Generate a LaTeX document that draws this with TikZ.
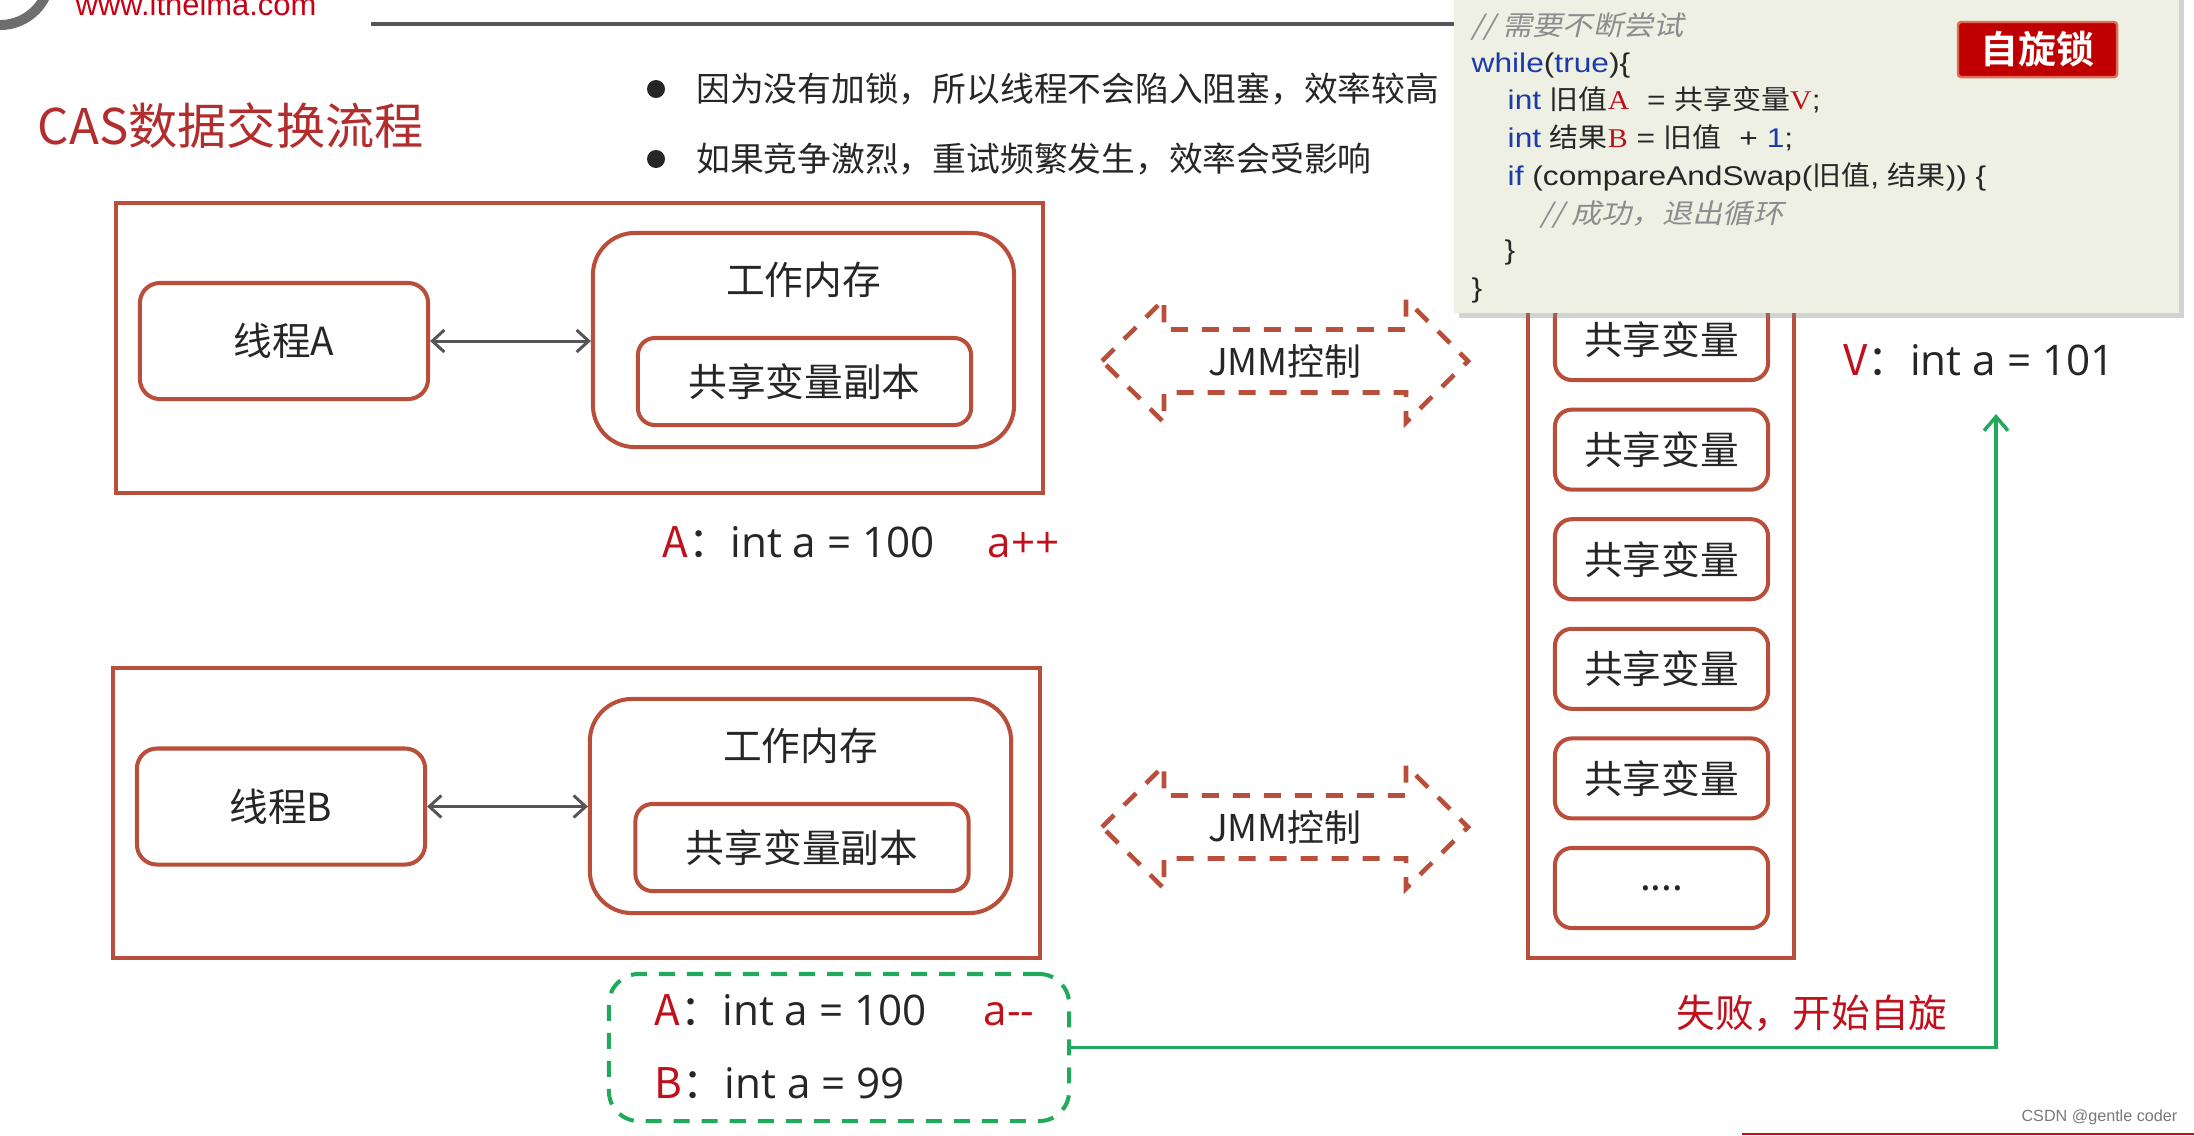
\documentclass[tikz,border=0pt]{standalone}
\usepackage{fontspec}
\setmainfont{Noto Sans CJK SC}
\newfontfamily\latfont{Open Sans}
\newfontfamily\codefont[FakeStretch=1.17]{Liberation Sans}
\newfontfamily\codecjk[FakeStretch=1.07]{Noto Sans CJK SC}
\newfontfamily\codeslant[FakeStretch=1.12,FakeSlant=0.22]{Noto Sans CJK SC}
\newfontfamily\codeserif[FakeStretch=1.1]{Liberation Serif}
\newfontfamily\badgefont{Noto Sans CJK SC Bold}
\newfontfamily\markfont{Liberation Sans}
\usetikzlibrary{arrows.meta,positioning,shadows}

\definecolor{boxred}{RGB}{185,78,58}
\definecolor{titlered}{RGB}{178,46,46}
\definecolor{labred}{RGB}{192,16,28}
\definecolor{logored}{RGB}{200,0,20}
\definecolor{spingreen}{RGB}{34,170,92}
\definecolor{linkgray}{RGB}{85,85,85}
\definecolor{ringgray}{RGB}{110,110,110}
\definecolor{markgray}{RGB}{120,120,120}
\definecolor{inkgray}{RGB}{38,38,38}
\definecolor{codebg}{RGB}{238,240,228}
\definecolor{codeblue}{RGB}{28,58,168}
\definecolor{codegray}{RGB}{140,140,140}
\definecolor{badgered}{RGB}{192,0,0}
\definecolor{badgeedge}{RGB}{222,110,90}

\newcommand\boxsize{\fontsize{11pt}{13pt}\selectfont}
\newcommand\bulletsize{\fontsize{9.6pt}{12pt}\selectfont}
\newcommand\titlesize{\fontsize{14pt}{16pt}\selectfont}
\newcommand\labelsize{\fontsize{12pt}{14pt}\selectfont}
\newcommand\jmmsize{\fontsize{10.5pt}{12pt}\selectfont}
\newcommand\codesize{\fontsize{7.7pt}{9pt}\selectfont}
\newcommand\cj[1]{{\codecjk #1}}
\newcommand\kw[1]{\textcolor{codeblue}{#1}}
\newcommand\rv[1]{{\codeserif\color{labred}#1}}
\newcommand\intlabel[2]{\textcolor{labred}{#1}：{\latfont int a = #2}}

\tikzset{
  outerbox/.style={draw=boxred,line width=1.15pt,minimum width=9.27cm,minimum height=2.90cm,inner sep=0pt},
  threadbox/.style={draw=boxred,line width=1.15pt,rounded corners=0.2cm,minimum width=2.88cm,minimum height=1.16cm,inner sep=0pt,font=\boxsize,text=inkgray},
  membox/.style={draw=boxred,line width=1.15pt,rounded corners=0.42cm,minimum width=4.21cm,minimum height=2.14cm,inner sep=0pt},
  copybox/.style={draw=boxred,line width=1.15pt,rounded corners=0.17cm,minimum width=3.33cm,minimum height=0.87cm,inner sep=0pt,font=\boxsize,text=inkgray},
  varbox/.style={draw=boxred,line width=1.15pt,rounded corners=0.17cm,minimum width=2.13cm,minimum height=0.80cm,inner sep=0pt,font=\boxsize,text=inkgray},
  boxtext/.style={inner sep=0pt,font=\boxsize,text=inkgray},
  bulletdot/.style={circle,fill=inkgray,inner sep=0pt,minimum size=0.18cm},
  notetext/.style={anchor=west,inner sep=0pt,font=\bulletsize,text=inkgray},
  link/.style={linkgray,line width=0.85pt,{Straight Barb[length=0.12cm,width=0.22cm]}-{Straight Barb[length=0.12cm,width=0.22cm]}},
  jmmline/.style={boxred,line width=1.3pt,dash pattern=on 0.17cm off 0.14cm},
  jmmtext/.style={inner sep=0pt,font=\jmmsize,text=inkgray},
  intlab/.style={anchor=base west,inner sep=0pt,font=\labelsize,text=inkgray},
  oplab/.style={anchor=base west,inner sep=0pt,font=\labelsize\latfont,text=labred},
  greenbox/.style={draw=spingreen,line width=1.15pt,dash pattern=on 0.16cm off 0.12cm,rounded corners=0.3cm,minimum width=4.60cm,minimum height=1.47cm,inner sep=0pt},
  spinarrow/.style={spingreen,line width=1pt,-{Straight Barb[length=0.14cm,width=0.24cm]}},
  codeline/.style={anchor=base west,inner sep=0pt,font=\codefont\codesize,text=inkgray},
  codenote/.style={anchor=base west,inner sep=0pt,font=\codeslant\codesize,text=codegray},
  badge/.style={fill=badgered,draw=badgeedge,line width=0.7pt,rounded corners=0.03cm,minimum width=1.59cm,minimum height=0.55cm,inner sep=0pt,text=white,font=\badgefont\fontsize{10.8pt}{12pt}\selectfont},
}

\begin{document}
\begin{tikzpicture}[x=0.01cm,y=-0.01cm]
    \useasboundingbox (0,0) rectangle (2194,1135);
    % header
    \draw[ringgray,line width=0.1cm] (0,-25) circle [radius=0.5cm];
    \node[anchor=base west,inner sep=0pt,text=logored,font=\markfont\fontsize{8.8pt}{10pt}\selectfont] (site) at (75,15) {www.itheima.com};
    \draw[linkgray,line width=1pt] (371,24) -- (1460,24);
    \node[anchor=west,inner sep=0pt,text=titlered,font=\titlesize] (title) at (37,126) {CAS数据交换流程};
    \node[bulletdot] (dot1) at (656,89) {};
    \node[notetext,right=0.3cm of dot1] (note1) {因为没有加锁，所以线程不会陷入阻塞，效率较高};
    \node[bulletdot] (dot2) at (656,159) {};
    \node[notetext,right=0.3cm of dot2] (note2) {如果竞争激烈，重试频繁发生，效率会受影响};
    % thread A
    \node[outerbox] (outA) at (579.5,348) {};
    \node[threadbox] (thrA) at (284,341) {线程A};
    \node[membox] (memA) at (803.5,340) {};
    \node[boxtext,below=0.3cm of memA.north] (workA) {工作内存};
    \node[copybox] (copyA) at (804.5,381.5) {共享变量副本};
    \draw[link] (thrA.east) -- (thrA.east -| memA.west);
    \node[intlab] (alab) at (662,557) {\intlabel{A}{100}};
    \node[oplab] (aplus) at (987,557) {a++};
    % thread B
    \node[outerbox] (outB) at (576.5,813) {};
    \node[threadbox] (thrB) at (281,806.5) {线程B};
    \node[membox] (memB) at (800.5,806) {};
    \node[boxtext,below=0.3cm of memB.north] (workB) {工作内存};
    \node[copybox] (copyB) at (802,847.5) {共享变量副本};
    \draw[link] (thrB.east) -- (thrB.east -| memB.west);
    % JMM
    \node[jmmtext] (jmmA) at (1285,361) {JMM控制};
    \draw[jmmline] (jmmA.center) ++(-183,0) -- ++(62,-61.5) -- ++(0,30) -- ++(242,0) -- ++(0,-30) -- ++(62,61.5) -- ++(-62,61.5) -- ++(0,-30) -- ++(-242,0) -- ++(0,30) -- cycle;
    \node[jmmtext] (jmmB) at (1285,827) {JMM控制};
    \draw[jmmline] (jmmB.center) ++(-183,0) -- ++(62,-61.5) -- ++(0,30) -- ++(242,0) -- ++(0,-30) -- ++(62,61.5) -- ++(-62,61.5) -- ++(0,-30) -- ++(-242,0) -- ++(0,30) -- cycle;
    % main memory
    \node[draw=boxred,line width=1.15pt,minimum width=2.66cm,minimum height=7.08cm,inner sep=0pt] (heap) at (1661,604) {};
    \node[varbox] (var1) at (1661.5,340) {共享变量};
    \node[varbox] (var2) at (1661.5,449.6) {共享变量};
    \node[varbox] (var3) at (1661.5,559.2) {共享变量};
    \node[varbox] (var4) at (1661.5,668.8) {共享变量};
    \node[varbox] (var5) at (1661.5,778.4) {共享变量};
    \node[varbox] (var6) at (1661.5,888) {....};
    \node[intlab] (vlab) at (1843,375) {\intlabel{V}{101}};
    % CAS attempt of B
    \node[greenbox] (gbox) at (839,1047.5) {};
    \node[intlab] (gA) at (654,1025) {\intlabel{A}{100}};
    \node[oplab] (gminus) at (983,1025) {a-{}-};
    \node[intlab] (gB) at (654,1098) {\intlabel{B}{99}};
    \coordinate (spintip) at (1996,414);
    \draw[spinarrow] (gbox.east) -| (spintip);
    \node[boxtext,text=labred] (fail) at (1812,1013) {失败，开始自旋};
    % code
    \node[fill=codebg,minimum width=7.25cm,minimum height=3.33cm,inner sep=0pt,drop shadow={shadow xshift=0.05cm,shadow yshift=-0.05cm,opacity=0.35}] (codebox) at (1816.5,146.5) {};
    \node[badge] (spin) at (2037.5,49.5) {自旋锁};
    \node[codenote] (code1) at (1471,35) {// 需要不断尝试};
    \node[codeline] (code2) at (1471,72) {\kw{while}(\kw{true})\{};
    \node[codeline] (code3) at (1507,109) {\kw{int} \cj{旧值}\rv{A}\ \ = \cj{共享变量}\rv{V};};
    \node[codeline] (code4) at (1507,147) {\kw{int} \cj{结果}\rv{B} = \cj{旧值}\ \ + \kw{1};};
    \node[codeline] (code5) at (1507,185) {\kw{if} (compareAndSwap(\cj{旧值}, \cj{结果})) \{};
    \node[codenote] (code6) at (1540,223) {// 成功，退出循环};
    \node[codeline] (code7) at (1504,259) {\}};
    \node[codeline] (code8) at (1471,297) {\}};
    % footer
    \draw[labred,line width=0.8pt] (1742,1134) -- (2194,1134);
    \node[anchor=base east,inner sep=0pt,text=markgray,font=\markfont\fontsize{4.6pt}{5pt}\selectfont] (csdn) at (2178,1121) {CSDN @gentle coder};
\end{tikzpicture}
\end{document}
